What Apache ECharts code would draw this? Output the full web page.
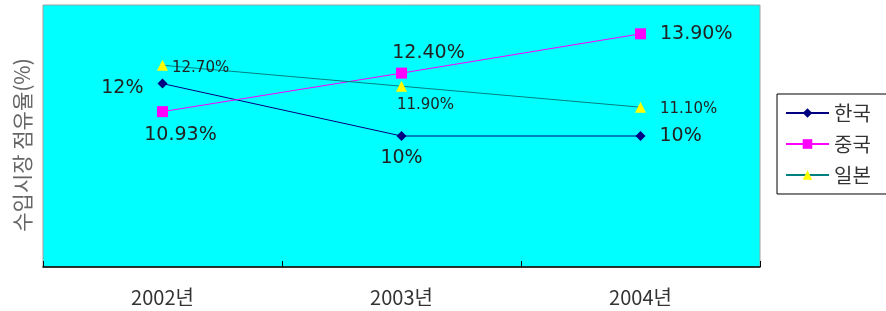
<!DOCTYPE html>
<html>
<head>
<meta charset="utf-8">
<script src="https://cdn.jsdelivr.net/npm/echarts@6/dist/echarts.min.js"></script>
<style>
  html, body { margin: 0; padding: 0; background: #fff; }
  #chart { width: 886px; height: 311px; }
</style>
</head>
<body>
<div id="chart"></div>
<script>
// 데이터
var years = ['2002년', '2003년', '2004년'];
var korea = [12, 10, 10];
var china = [10.93, 12.4, 13.9];
var japan = [12.7, 11.9, 11.1];
var koreaText = ['12%', '10%', '10%'];
var chinaText = ['10.93%', '12.40%', '13.90%'];
var japanText = ['12.70%', '11.90%', '11.10%'];

var numFont = 'DejaVu Sans';
var krFont = '"Noto Sans CJK KR", sans-serif';

// 라벨 위치 (pos, distance, offset, fontSize)
function points(vals, texts, layout) {
  return vals.map(function (v, i) {
    var l = layout[i];
    return {
      value: v,
      label: {
        show: true,
        position: l[0],
        distance: l[1],
        offset: l[2],
        fontSize: l[3],
        fontFamily: numFont,
        color: '#222',
        formatter: texts[i]
      }
    };
  });
}

var chart = echarts.init(document.getElementById('chart'));
chart.setOption({
  animation: false,
  backgroundColor: '#fff',
  grid: {
    left: 43, top: 5, right: 126, bottom: 44,
    show: true,
    backgroundColor: '#00FFFF',
    borderColor: '#a0a0a0',
    borderWidth: 1
  },
  legend: {
    orient: 'vertical',
    left: 777, top: 94,
    padding: [9, 20, 9, 8],
    itemGap: 11,
    itemWidth: 43,
    itemHeight: 12,
    borderColor: '#000',
    borderWidth: 1,
    textStyle: { fontSize: 20, fontFamily: krFont, color: '#333' },
    data: ['한국', '중국', '일본']
  },
  xAxis: {
    type: 'category',
    data: years,
    boundaryGap: true,
    axisLine: { lineStyle: { color: '#000', width: 1.5 } },
    axisTick: { show: true, interval: 0, alignWithLabel: false, inside: true, length: 6, lineStyle: { color: '#000', width: 1 } },
    axisLabel: { margin: 20, fontSize: 20, fontFamily: krFont, color: '#333' }
  },
  yAxis: {
    type: 'value',
    min: 5, max: 15,
    name: '수입시장 점유율(%)',
    nameLocation: 'middle',
    nameRotate: 90,
    nameGap: 10,
    nameTextStyle: { fontSize: 21, fontFamily: krFont, color: '#666', padding: [0, 18, 0, 0] },
    axisLine: { show: false },
    axisTick: { show: false },
    axisLabel: { show: false },
    splitLine: { show: false }
  },
  series: [
    {
      name: '한국', type: 'line',
      symbol: 'diamond', symbolSize: 10,
      color: '#000080',
      lineStyle: { width: 1, color: '#000080' },
      data: points(korea, koreaText, [
        ['left', 14, [0, 4], 19],
        ['bottom', 8, [0, 0], 19],
        ['right', 14, [0, 0], 19]
      ])
    },
    {
      name: '중국', type: 'line',
      symbol: 'rect', symbolSize: 11,
      color: '#FF00FF',
      lineStyle: { width: 1, color: '#FF00FF' },
      data: points(china, chinaText, [
        ['bottom', 8, [18, 0], 19],
        ['top', 5, [27, 0], 19],
        ['right', 14, [0, 0], 19]
      ])
    },
    {
      name: '일본', type: 'line',
      symbol: 'triangle', symbolSize: 11,
      color: '#FFFF00',
      lineStyle: { width: 1, color: '#008080' },
      data: points(japan, japanText, [
        ['right', 4, [0, 3], 15],
        ['bottom', 6, [24, 0], 15],
        ['right', 14, [0, 2], 15]
      ])
    }
  ]
});
</script>
</body>
</html>
